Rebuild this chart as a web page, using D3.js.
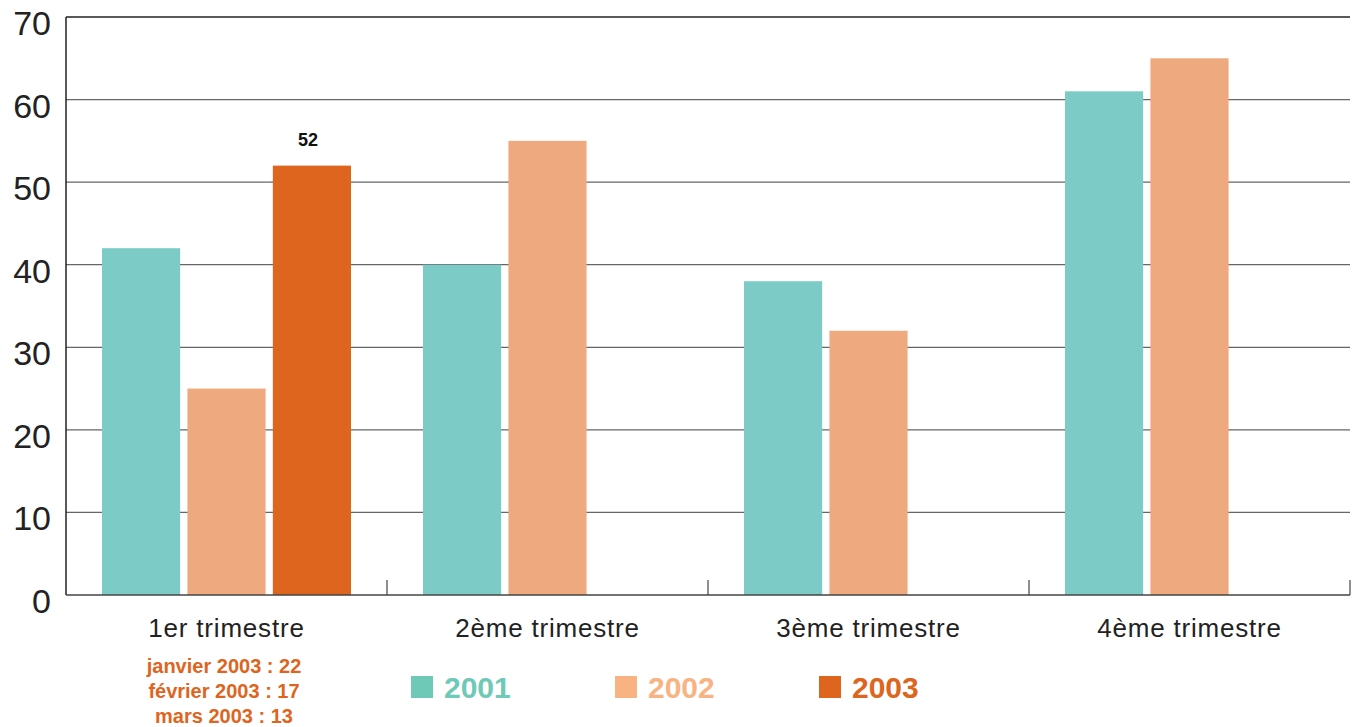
<!DOCTYPE html>
<html><head><meta charset="utf-8">
<script src="https://cdn.jsdelivr.net/npm/d3@7"></script>
<style>body{margin:0;background:#fff}svg{display:block}text{font-family:"Liberation Sans",Arial,sans-serif}</style>
</head><body><svg id="c" width="1361" height="727"></svg>
<script>
const categories = ["1er trimestre","2ème trimestre","3ème trimestre","4ème trimestre"];
const series = ["2001","2002","2003"];
const values2001 = [42,40,38,61];
const values2002 = [25,55,32,65];
const values2003 = [52,null,null,null];
const yTicks = [0,10,20,30,40,50,60,70];
const barColors = ["#7ccbc6","#eeaa7e","#dd651e"];
const legendColors = ["#6ec9b7","#f9b383","#dd651e"];
const monthNotes = ["janvier 2003 : 22","février 2003 : 17","mars 2003 : 13"];
const valueLabel = {series:"2003", cat:"1er trimestre", text:"52"};

const svg = d3.select("#c");
const L=66,R=1350,T=17,B=595;
const x = d3.scaleBand().domain(categories).range([L,R]).paddingInner(0).paddingOuter(0);
const xs = d3.scaleBand().domain(series).range([36, x.bandwidth()-36]).paddingInner(0.085);
const y = d3.scaleLinear().domain([0,70]).range([B,T]);

// gridlines
svg.append("g").selectAll("line").data(yTicks.filter(d=>d>0)).join("line")
  .attr("x1",L).attr("x2",R).attr("y1",d=>y(d)).attr("y2",d=>y(d))
  .attr("stroke",d=>d===70?"#222":"#666").attr("stroke-width",1.3);

// y labels
svg.append("g").selectAll("text").data(yTicks).join("text")
  .attr("x",51).attr("y",d=>y(d)+18).attr("text-anchor","end")
  .attr("font-size",34).attr("fill","#222").text(d=>d);

// bars
const data = [values2001,values2002,values2003];
series.forEach((s,i)=>{
  svg.append("g").selectAll("rect").data(categories.map((c,j)=>({c,v:data[i][j]})).filter(d=>d.v!=null)).join("rect")
    .attr("x",d=>x(d.c)+xs(s)).attr("width",xs.bandwidth())
    .attr("y",d=>y(d.v)).attr("height",d=>y(0)-y(d.v)).attr("fill",barColors[i]);
});

// axes
svg.append("line").attr("x1",L).attr("x2",L).attr("y1",T).attr("y2",B).attr("stroke","#222").attr("stroke-width",1.5);
svg.append("line").attr("x1",L).attr("x2",R).attr("y1",B).attr("y2",B).attr("stroke","#444").attr("stroke-width",1.5);
const bounds = categories.map(c=>x(c)).concat([R]).slice(1);
svg.append("g").selectAll("line").data(bounds).join("line")
  .attr("x1",d=>d).attr("x2",d=>d).attr("y1",B-15).attr("y2",B).attr("stroke","#444").attr("stroke-width",1.2);

// category labels
svg.append("g").selectAll("text").data(categories).join("text")
  .attr("x",d=>x(d)+x.bandwidth()/2).attr("y",637).attr("text-anchor","middle")
  .attr("font-size",26).attr("letter-spacing",0.8).attr("fill","#222").text(d=>d);

// value label
svg.append("text").attr("x",x(valueLabel.cat)+xs(valueLabel.series)+xs.bandwidth()/2-4)
  .attr("y",y(values2003[0])-20).attr("text-anchor","middle").attr("font-weight","bold")
  .attr("font-size",18).attr("fill","#111").text(valueLabel.text);

// month notes
svg.append("g").selectAll("text").data(monthNotes).join("text")
  .attr("x",224).attr("y",(d,i)=>673+i*25).attr("text-anchor","middle")
  .attr("font-weight","bold").attr("font-size",20).attr("fill","#dd651e").text(d=>d);

// legend
const legX = [411,615,819];
const lg = svg.append("g").selectAll("g").data(series).join("g")
  .attr("transform",(d,i)=>`translate(${legX[i]},676)`);
lg.append("rect").attr("width",22).attr("height",22).attr("fill",(d,i)=>legendColors[i]);
lg.append("text").attr("x",33).attr("y",22).attr("font-weight","bold").attr("font-size",30)
  .attr("fill",(d,i)=>legendColors[i]).text(d=>d);
</script></body></html>
